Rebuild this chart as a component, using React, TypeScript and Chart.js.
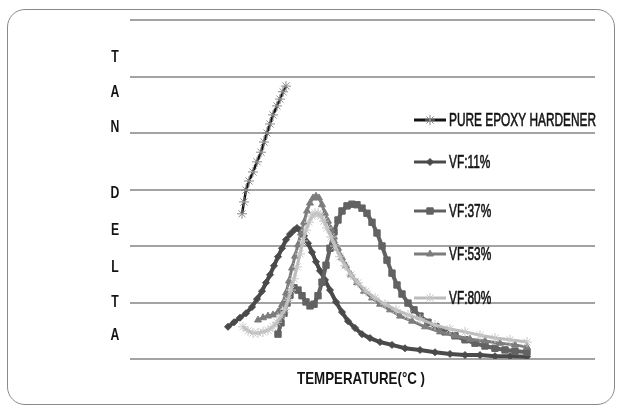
import React, { useEffect, useRef } from "react";
import { Chart, registerables } from "chart.js";
import { drawPoint } from "chart.js/helpers";

Chart.register(...registerables);

// ---------- data ----------
const seriesNames = ["PURE EPOXY HARDENER", "VF:11%", "VF:37%", "VF:53%", "VF:80%"];

const pureTemp = [56, 57, 58, 59.5, 61.5, 63.5, 65.5, 67, 68.5, 70, 71.5, 73.5, 75, 76.5, 78];
const pureTanDelta = [0.257, 0.278, 0.299, 0.315, 0.331, 0.349, 0.366, 0.384, 0.4, 0.416, 0.432, 0.448, 0.46, 0.473, 0.483];

const vf11Temp = [49, 52, 55, 58, 61, 63.5, 66, 68, 70, 72, 74, 76, 78, 80, 82, 83.5, 85, 87, 89, 91, 93, 95, 97.5, 100, 103, 106, 109, 112.5, 116, 120, 125, 131, 137.5, 145, 152.5, 160, 167.5, 175, 182.5, 190, 198.5];
const vf11TanDelta = [0.057, 0.065, 0.073, 0.081, 0.092, 0.106, 0.12, 0.135, 0.149, 0.165, 0.181, 0.196, 0.211, 0.221, 0.228, 0.232, 0.228, 0.218, 0.205, 0.189, 0.172, 0.156, 0.14, 0.122, 0.101, 0.083, 0.067, 0.055, 0.044, 0.037, 0.03, 0.025, 0.019, 0.016, 0.012, 0.009, 0.007, 0.007, 0.005, 0.005, 0.004];

const vf37Temp = [74, 75.5, 77, 78.5, 80, 82, 84, 86, 88, 90, 92, 94, 96, 98, 100, 102, 104, 106, 108.5, 111, 113.5, 116, 118.5, 121, 123.5, 126, 128.5, 131, 133.5, 136, 139, 142, 145, 149, 153, 157.5, 162.5, 167.5, 172.5, 177.5, 182.5, 187.5, 192.5, 198.5];
const vf37TanDelta = [0.044, 0.064, 0.081, 0.099, 0.113, 0.126, 0.122, 0.112, 0.101, 0.094, 0.097, 0.112, 0.136, 0.166, 0.196, 0.225, 0.246, 0.262, 0.271, 0.274, 0.273, 0.267, 0.258, 0.242, 0.223, 0.2, 0.175, 0.152, 0.131, 0.115, 0.099, 0.087, 0.076, 0.065, 0.057, 0.048, 0.041, 0.034, 0.028, 0.023, 0.019, 0.016, 0.014, 0.012];

const vf53Temp = [64, 66.5, 69, 71.5, 74, 76, 78, 79.5, 81, 82.5, 84, 85.5, 87, 88.5, 90, 91.5, 93, 94.5, 96, 97.5, 99, 100.5, 102, 104, 106, 108, 110.5, 113.5, 117, 121, 125, 130, 135, 141, 147.5, 155, 162.5, 170, 177.5, 185, 192.5, 198.5];
const vf53TanDelta = [0.069, 0.073, 0.076, 0.078, 0.083, 0.096, 0.117, 0.138, 0.161, 0.182, 0.202, 0.223, 0.242, 0.262, 0.276, 0.285, 0.288, 0.285, 0.273, 0.258, 0.244, 0.23, 0.216, 0.196, 0.179, 0.165, 0.149, 0.135, 0.12, 0.108, 0.097, 0.087, 0.076, 0.067, 0.057, 0.048, 0.041, 0.035, 0.032, 0.028, 0.025, 0.021];

const vf80Temp = [56.5, 59, 61.5, 64, 66.5, 69, 71.5, 73.5, 75.5, 77.5, 79, 80.5, 82, 83.5, 85, 86.5, 88, 89.5, 91, 92.5, 94, 95.5, 97, 98.5, 100.5, 102.5, 105, 107.5, 110.5, 114, 118, 122.5, 127.5, 133, 139, 145, 152.5, 160, 167.5, 175, 182.5, 190, 198.5];
const vf80TanDelta = [0.057, 0.05, 0.046, 0.046, 0.048, 0.051, 0.057, 0.065, 0.076, 0.088, 0.104, 0.122, 0.142, 0.163, 0.186, 0.209, 0.228, 0.242, 0.253, 0.258, 0.258, 0.253, 0.244, 0.232, 0.216, 0.2, 0.181, 0.165, 0.149, 0.135, 0.12, 0.108, 0.097, 0.087, 0.078, 0.071, 0.06, 0.053, 0.048, 0.042, 0.037, 0.034, 0.03];

const seriesTemps = [pureTemp, vf11Temp, vf37Temp, vf53Temp, vf80Temp];
const seriesValues = [pureTanDelta, vf11TanDelta, vf37TanDelta, vf53TanDelta, vf80TanDelta];

const yTitle = "TAN DELTA";
const xTitle = "TEMPERATURE(°C )";

// ---------- styles ----------
const styles = [
  { line: "#141414", point: "#8a8a8a", fill: "#8a8a8a", style: "star", r: 5, bw: 2.5, pbw: 1 },
  { line: "#4a4a4a", point: "#4a4a4a", fill: "#4a4a4a", style: "rectRot", r: 3.5, bw: 4, pbw: 1 },
  { line: "#626262", point: "#626262", fill: "#626262", style: "rect", r: 4.5, bw: 4, pbw: 1 },
  { line: "#7d7d7d", point: "#7d7d7d", fill: "#7d7d7d", style: "triangle", r: 4, bw: 3, pbw: 1 },
  { line: "#bcbcbc", point: "#c6c6c6", fill: "#c6c6c6", style: "star", r: 5, bw: 3, pbw: 1 },
];
const drawOrder = [4, 3, 2, 1, 0];
const legendY = [120, 162, 211, 254, 298];
const yLetterPos = [57, 92, 127, 160, 193, 230, 267, 302, 335];

const FONT = "'Liberation Sans', Arial, sans-serif";

function squeezedText(ctx: CanvasRenderingContext2D, text: string, x: number, y: number, sx: number, align: "left" | "center", strokeW = 0) {
  const w = ctx.measureText(text).width * sx;
  const x0 = align === "center" ? x - w / 2 : x;
  ctx.save();
  ctx.translate(x0, y);
  ctx.scale(sx, 1);
  ctx.textAlign = "left";
  ctx.fillText(text, 0, 0);
  if (strokeW > 0) {
    ctx.strokeStyle = ctx.fillStyle as string;
    ctx.lineWidth = strokeW;
    ctx.strokeText(text, 0, 0);
  }
  ctx.restore();
}

const overlayPlugin = {
  id: "overlay",
  afterDraw(chart: any) {
    const ctx = chart.ctx as CanvasRenderingContext2D;
    ctx.save();
    ctx.textBaseline = "middle";
    // legend
    ctx.font = `18px ${FONT}`;
    const legendSx = 147 / ctx.measureText(seriesNames[0]).width;
    chart.data.datasets.forEach((ds: any, i: number) => {
      const y = legendY[i];
      const st = styles[i];
      ctx.strokeStyle = st.line;
      ctx.lineWidth = 3;
      ctx.beginPath();
      ctx.moveTo(414, y);
      ctx.lineTo(446, y);
      ctx.stroke();
      ctx.fillStyle = st.fill;
      ctx.strokeStyle = st.point;
      ctx.lineWidth = st.pbw;
      drawPoint(ctx, { pointStyle: st.style, radius: st.r, borderWidth: st.pbw, rotation: 0 } as any, 430, y);
      ctx.fillStyle = "#141414";
      ctx.font = `18px ${FONT}`;
      squeezedText(ctx, ds.label, 449, y + 1, legendSx, "left", 0.6);
    });
    // x title
    ctx.fillStyle = "#141414";
    ctx.font = `bold 17px ${FONT}`;
    const titleSx = 128 / ctx.measureText(xTitle).width;
    squeezedText(ctx, xTitle, 361, 379, titleSx, "center");
    // y title, letter by letter
    ctx.font = `bold 17px ${FONT}`;
    yTitle.split("").forEach((ch, i) => {
      if (ch.trim()) squeezedText(ctx, ch, 115, yLetterPos[i], 0.72, "center");
    });
    ctx.restore();
  },
};

export default function App() {
  const ref = useRef<HTMLCanvasElement>(null);
  useEffect(() => {
    if (!ref.current) return;
    const chart = new Chart(ref.current, {
      type: "line",
      data: {
        datasets: seriesNames.map((name, i) => ({
          label: name,
          data: seriesTemps[i].map((t, k) => ({ x: t, y: seriesValues[i][k] })),
          borderColor: styles[i].line,
          backgroundColor: styles[i].fill,
          borderWidth: styles[i].bw,
          pointStyle: styles[i].style as any,
          pointRadius: styles[i].r,
          pointBorderColor: styles[i].point,
          pointBackgroundColor: styles[i].fill,
          pointBorderWidth: styles[i].pbw,
          tension: 0,
          fill: false,
          order: drawOrder[i],
        })),
      },
      options: {
        animation: false,
        responsive: false,
        devicePixelRatio: 1,
        layout: { padding: { left: 130, right: 23, top: 20, bottom: 49 } },
        plugins: { legend: { display: false }, tooltip: { enabled: false } },
        scales: {
          x: {
            type: "linear",
            min: 0,
            max: 232.5,
            ticks: { display: false },
            grid: { display: false, drawTicks: false },
            border: { display: false },
            afterFit: (s: any) => { s.height = 0; },
          },
          y: {
            min: 0,
            max: 0.6,
            ticks: { display: false, stepSize: 0.1 },
            grid: { color: "#a3a3a3", lineWidth: 2, drawTicks: false },
            border: { display: false },
            afterFit: (s: any) => { s.width = 0; },
          },
        },
      },
      plugins: [overlayPlugin],
    });
    return () => chart.destroy();
  }, []);

  return (
    <div style={{ position: "fixed", left: 0, top: 0, width: 618, height: 408, background: "#fff" }}>
      <div
        style={{
          position: "absolute",
          left: 7,
          top: 9,
          width: 606,
          height: 394,
          border: "1.5px solid #8a8a8a",
          borderRadius: 18,
        }}
      />
      <canvas ref={ref} width={618} height={408} style={{ position: "absolute", left: 0, top: 0, width: 618, height: 408 }} />
    </div>
  );
}
